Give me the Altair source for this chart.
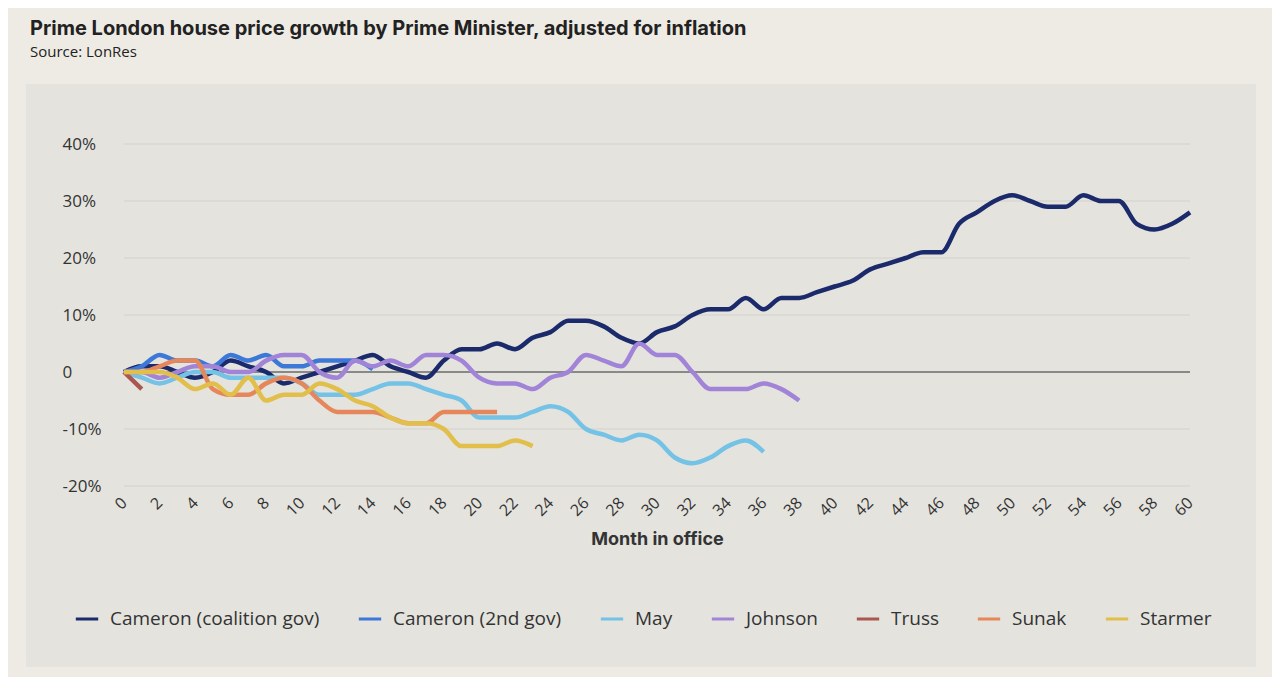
import altair as alt
import pandas as pd

names = ["Cameron (coalition gov)", "Cameron (2nd gov)", "May", "Johnson", "Truss", "Sunak", "Starmer"]
colors = ["#1B2A6B", "#3B78D8", "#74C3E6", "#A184D8", "#A85850", "#E5875A", "#E2BE4A"]

cameron1 = [0,1,1,0,-1,0,2,1,0,-2,-1,0,1,2,3,1,0,-1,2,4,4,5,4,6,7,9,9,8,6,5,7,8,10,11,11,13,11,13,13,14,15,16,18,19,20,21,21,26,28,30,31,30,29,29,31,30,30,26,25,26,28]
cameron2 = [0,1,3,2,2,1,3,2,3,1,1,2,2,2,0.5]
may = [0,-1,-2,-1,0,0,-1,-1,-1,-1,-2,-4,-4,-4,-3,-2,-2,-3,-4,-5,-8,-8,-8,-7,-6,-7,-10,-11,-12,-11,-12,-15,-16,-15,-13,-12,-14]
johnson = [0,0,-1,0,1,1,0,0,2,3,3,0,-1,2,1,2,1,3,3,2,-1,-2,-2,-3,-1,0,3,2,1,5,3,3,0,-3,-3,-3,-2,-3,-5]
truss = [0,-3]
sunak = [0,0,1,2,2,-3,-4,-4,-2,-1,-2,-5,-7,-7,-7,-8,-9,-9,-7,-7,-7,-7]
starmer = [0,0,0,-1,-3,-2,-4,-1,-5,-4,-4,-2,-3,-5,-6,-8,-9,-9,-10,-13,-13,-13,-12,-13]
y_ticks = [-20, -10, 10, 20, 30, 40]

series = [cameron1, cameron2, may, johnson, truss, sunak, starmer]
rows = []
for n, s in zip(names, series):
    for i, v in enumerate(s):
        rows.append({"pm": n, "month": i, "value": v})
df = pd.DataFrame(rows)

FONT = "Open Sans"
yscale = alt.Scale(domain=[-20, 40], nice=False)

panel = alt.Chart(pd.DataFrame({"a": [0]})).mark_rect(color="#E4E3DE").encode(
    x=alt.value(-98), x2=alt.value(1132), y=alt.value(-60), y2=alt.value(523))

grid = alt.Chart(pd.DataFrame({"g": y_ticks})).mark_rule(color="#D3D1CB", strokeWidth=1.2).encode(
    y=alt.Y("g:Q", scale=yscale))

zero = alt.Chart(pd.DataFrame({"z": [0]})).mark_rule(color="#6b6b6b", strokeWidth=1.5).encode(
    y=alt.Y("z:Q", scale=yscale))

lines = alt.Chart(df).mark_line(interpolate="monotone", strokeWidth=4.5).encode(
    x=alt.X("month:Q", scale=alt.Scale(domain=[0, 60], nice=False),
            axis=alt.Axis(values=list(range(0, 61, 2)), labelAngle=-45, title="Month in office",
                          grid=False, domain=False, ticks=False, labelFontSize=16, labelColor="#333",
                          labelFont=FONT, labelAlign="right", labelBaseline="middle", labelPadding=14,
                          titleFont="Inter", titleFontSize=18, titleFontWeight="bold", titleColor="#333",
                          titlePadding=12, zindex=1)),
    y=alt.Y("value:Q", scale=yscale,
            axis=alt.Axis(values=[-20, -10, 0, 10, 20, 30, 40], title=None, domain=False, ticks=False,
                          grid=False, zindex=1,
                          labelExpr="datum.value == 0 ? '0' : datum.value + '%'",
                          labelAlign="left", labelPadding=62, labelFontSize=17, labelColor="#333",
                          labelFont=FONT)),
    color=alt.Color("pm:N", scale=alt.Scale(domain=names, range=colors), sort=names,
                    legend=alt.Legend(title=None, orient="none", direction="horizontal",
                                      legendX=-50, legendY=462, symbolType="stroke",
                                      symbolStrokeWidth=3, symbolSize=500, labelFontSize=19,
                                      labelColor="#333", labelFont=FONT, columnPadding=32,
                                      labelOffset=10, labelLimit=0)),
    order="month:Q",
)

chart = alt.layer(panel, grid, zero, lines).properties(
    width=1066, height=342,
    padding={"left": 116, "top": 136, "right": 82, "bottom": 191},
    autosize="none",
    background="#EEEBE4",
    title=alt.TitleParams("Prime London house price growth by Prime Minister, adjusted for inflation",
                          subtitle="Source: LonRes", anchor="start", dx=4, offset=24,
                          font="Inter", fontSize=20, fontWeight="bold", color="#222",
                          subtitleFont=FONT, subtitleFontSize=15, subtitleColor="#222", subtitlePadding=6),
).configure_view(stroke=None)

chart.save("out.html", embed_options={"renderer": "svg", "actions": False})
